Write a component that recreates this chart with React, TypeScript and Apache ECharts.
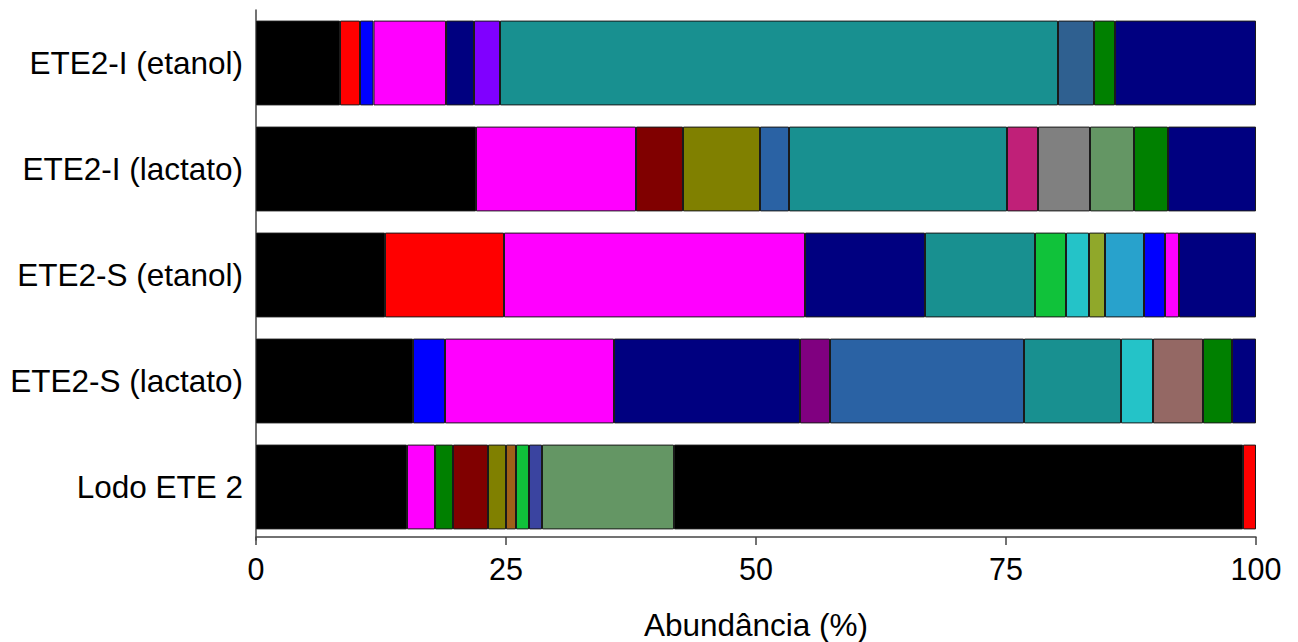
import React, { useEffect, useRef } from "react";
import * as echarts from "echarts";

// Samples, top to bottom
const categories = [
  "ETE2-I (etanol)",
  "ETE2-I (lactato)",
  "ETE2-S (etanol)",
  "ETE2-S (lactato)",
  "Lodo ETE 2",
];

// Relative abundance (%) of each taxon, left to right, per sample
const eteIEtanol = [8.4, 2.0, 1.35, 7.25, 2.8, 2.6, 55.8, 3.6, 2.1, 14.1];
const eteILactato = [22.0, 16.0, 4.7, 7.7, 2.9, 21.8, 3.1, 5.2, 4.4, 3.4, 8.8];
const eteSEtanol = [12.9, 11.9, 30.1, 12.0, 11.0, 3.1, 2.3, 1.6, 3.9, 2.1, 1.4, 7.7];
const eteSLactato = [15.7, 3.2, 16.9, 18.6, 3.0, 19.4, 9.7, 3.2, 5.0, 2.9, 2.4];
const lodoEte2 = [15.1, 2.8, 1.8, 3.5, 1.8, 1.0, 1.3, 1.3, 13.2, 56.9, 1.3];

// Segment colours, matching the value arrays above
const eteIEtanolColors = ["#000000", "#ff0000", "#0000ff", "#ff00ff", "#000080", "#8000ff", "#189090", "#2f6090", "#008000", "#000080"];
const eteILactatoColors = ["#000000", "#ff00ff", "#800000", "#808000", "#2a62a4", "#189090", "#c02078", "#808080", "#649664", "#008000", "#000080"];
const eteSEtanolColors = ["#000000", "#ff0000", "#ff00ff", "#000080", "#189090", "#10c23a", "#24c3c8", "#90a82a", "#28a2cc", "#0000ff", "#ff00ff", "#000080"];
const eteSLactatoColors = ["#000000", "#0000ff", "#ff00ff", "#000080", "#800080", "#2a62a4", "#189090", "#24c3c8", "#946864", "#008000", "#000080"];
const lodoEte2Colors = ["#000000", "#ff00ff", "#008000", "#800000", "#808000", "#a06018", "#10c23a", "#3a44a0", "#649664", "#000000", "#ff0000"];

const xTicks = [0, 25, 50, 75, 100];

const rows = [eteIEtanol, eteILactato, eteSEtanol, eteSLactato, lodoEte2];
const rowColors = [eteIEtanolColors, eteILactatoColors, eteSEtanolColors, eteSLactatoColors, lodoEte2Colors];

const FONT = "'Liberation Sans', Arial, sans-serif";

export default function App() {
  const ref = useRef<HTMLDivElement>(null);

  useEffect(() => {
    if (!ref.current) return;
    const chart = echarts.init(ref.current, undefined, { renderer: "svg" });

    const maxSegments = Math.max(...rows.map((r) => r.length));
    const series: any[] = [];
    for (let s = 0; s < maxSegments; s++) {
      series.push({
        type: "bar",
        stack: "total",
        barCategoryGap: "20%",
        data: rows.map((r, i) =>
          s < r.length
            ? { value: r[s], itemStyle: { color: rowColors[i][s] } }
            : "-"
        ),
        itemStyle: { borderColor: "#1a1a1a", borderWidth: 1 },
        emphasis: { disabled: true },
      });
    }

    chart.setOption({
      animation: false,
      backgroundColor: "#ffffff",
      grid: { left: 256, right: 42, top: 10, bottom: 102, containLabel: false, outerBoundsMode: "none" },
      xAxis: {
        type: "value",
        min: 0,
        max: 100,
        interval: 25,
        offset: -3,
        name: "Abundância (%)",
        nameLocation: "middle",
        nameGap: 72,
        nameTextStyle: { fontFamily: FONT, fontSize: 31.5, color: "#000" },
        axisLine: { show: true, lineStyle: { color: "#444", width: 1.5 } },
        axisTick: { show: true, length: 8, lineStyle: { color: "#444", width: 1.5 } },
        axisLabel: {
          fontFamily: FONT,
          fontSize: 30.5,
          color: "#000",
          margin: 16,
          formatter: (v: number) => (xTicks.includes(v) ? String(v) : ""),
        },
        splitLine: { show: false },
      },
      yAxis: {
        type: "category",
        data: categories,
        inverse: true,
        axisLine: { show: true, lineStyle: { color: "#444", width: 1.5 } },
        axisTick: { show: false },
        axisLabel: { fontFamily: FONT, fontSize: 31.5, color: "#000", margin: 13 },
      },
      series,
    });

    return () => chart.dispose();
  }, []);

  return (
    <div
      ref={ref}
      style={{ position: "fixed", left: 0, top: 0, width: 1298, height: 642 }}
    />
  );
}
